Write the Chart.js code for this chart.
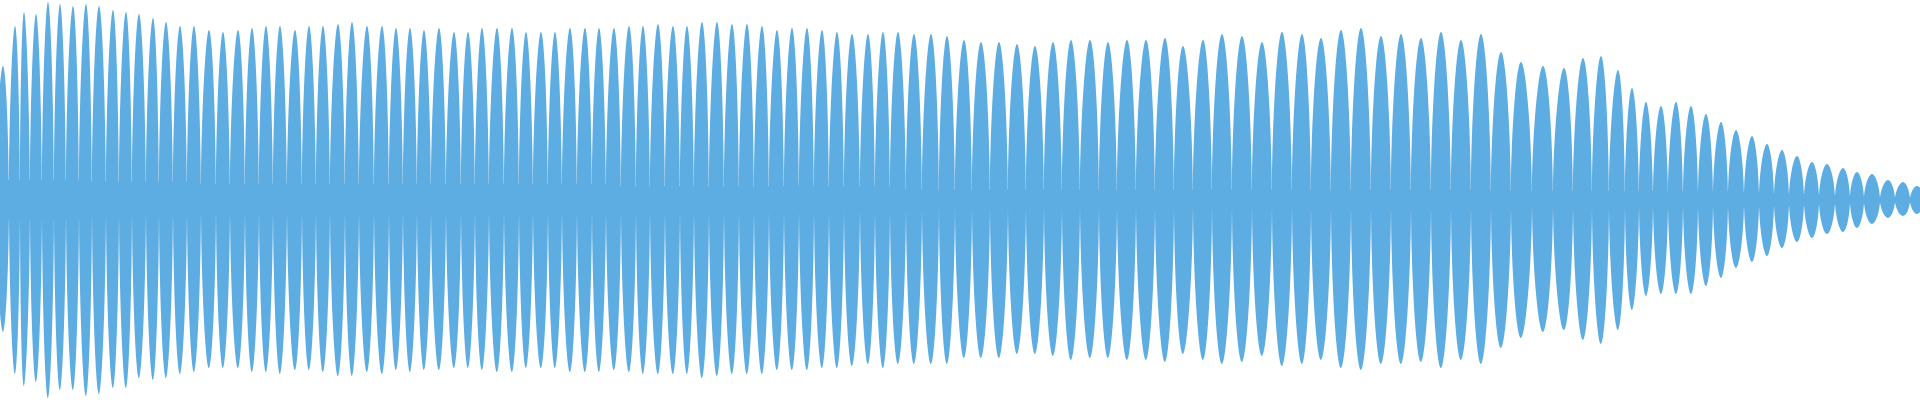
<!DOCTYPE html>
<html>
<head>
<meta charset="utf-8">
<script src="https://cdn.jsdelivr.net/npm/chart.js@4.4.1/dist/chart.umd.min.js"></script>
<style>
  html, body { margin: 0; padding: 0; background: #fff; }
  #wrap { width: 1920px; height: 400px; position: relative; }
</style>
</head>
<body>
<div id="wrap"><canvas id="wave"></canvas></div>
<script>
// lobe centres (sample position)
const peakX = [3, 15, 24, 36, 48, 60, 73, 86, 99, 113,
  126, 139, 153, 166, 180, 194, 209, 223, 238, 252,
  266, 280, 295, 309, 323, 338, 352, 367, 382, 396,
  410, 424, 439, 454, 468, 482, 497, 512, 526, 541,
  555, 570, 585, 599, 614, 629, 643, 658, 673, 687,
  702, 717, 732, 747, 762, 777, 792, 807, 822, 837,
  852, 868, 883, 898, 914, 931, 947, 964, 981, 999,
  1017, 1035, 1053, 1071, 1090, 1108, 1127, 1146, 1165, 1183,
  1203, 1222, 1242, 1262, 1282, 1302, 1321, 1341, 1361, 1381,
  1401, 1421, 1441, 1461, 1481, 1501, 1521, 1543, 1564, 1583,
  1601, 1618, 1632, 1646, 1661, 1676, 1691, 1706, 1721, 1736,
  1752, 1767, 1782, 1797, 1812, 1827, 1843, 1857, 1872, 1888,
  1903, 1917];

// max amplitude of each lobe
const peakTop = [0.67, 0.87, 0.94, 0.93, 0.99, 0.98, 0.97, 0.98, 0.97, 0.95,
  0.94, 0.93, 0.91, 0.89, 0.87, 0.87, 0.85, 0.84, 0.85, 0.86,
  0.87, 0.87, 0.85, 0.87, 0.87, 0.88, 0.89, 0.87, 0.87, 0.86,
  0.86, 0.85, 0.86, 0.84, 0.84, 0.86, 0.86, 0.86, 0.84, 0.84,
  0.84, 0.86, 0.86, 0.86, 0.86, 0.87, 0.87, 0.88, 0.87, 0.87,
  0.89, 0.89, 0.88, 0.88, 0.87, 0.85, 0.86, 0.86, 0.85, 0.84,
  0.83, 0.83, 0.84, 0.84, 0.83, 0.83, 0.82, 0.80, 0.79, 0.79,
  0.78, 0.77, 0.79, 0.80, 0.80, 0.79, 0.80, 0.80, 0.81, 0.77,
  0.80, 0.83, 0.82, 0.79, 0.84, 0.83, 0.81, 0.85, 0.86, 0.82,
  0.83, 0.81, 0.84, 0.80, 0.83, 0.74, 0.69, 0.67, 0.66, 0.71,
  0.72, 0.65, 0.56, 0.49, 0.47, 0.49, 0.47, 0.43, 0.39, 0.35,
  0.32, 0.28, 0.25, 0.22, 0.19, 0.18, 0.16, 0.14, 0.13, 0.10,
  0.09, 0.07];

// min amplitude of each lobe
const peakBottom = [-0.66, -0.87, -0.93, -0.91, -0.99, -0.95, -0.95, -0.98, -0.97, -0.94,
  -0.94, -0.89, -0.90, -0.89, -0.87, -0.86, -0.84, -0.84, -0.84, -0.86,
  -0.86, -0.87, -0.85, -0.85, -0.86, -0.88, -0.88, -0.86, -0.87, -0.85,
  -0.86, -0.85, -0.85, -0.84, -0.84, -0.85, -0.86, -0.86, -0.84, -0.84,
  -0.84, -0.86, -0.86, -0.86, -0.85, -0.86, -0.87, -0.87, -0.87, -0.87,
  -0.89, -0.88, -0.87, -0.87, -0.87, -0.85, -0.85, -0.85, -0.84, -0.84,
  -0.83, -0.82, -0.84, -0.82, -0.82, -0.82, -0.82, -0.79, -0.79, -0.79,
  -0.77, -0.77, -0.78, -0.80, -0.79, -0.79, -0.80, -0.80, -0.81, -0.77,
  -0.80, -0.82, -0.81, -0.78, -0.83, -0.82, -0.80, -0.84, -0.85, -0.82,
  -0.82, -0.81, -0.84, -0.80, -0.82, -0.74, -0.69, -0.66, -0.65, -0.70,
  -0.72, -0.65, -0.55, -0.48, -0.47, -0.47, -0.47, -0.43, -0.39, -0.34,
  -0.31, -0.28, -0.24, -0.21, -0.19, -0.17, -0.16, -0.14, -0.12, -0.09,
  -0.08, -0.07];

// quiet points between lobes
const neckX = [-4, 9, 20, 30, 42, 54, 66, 79, 92, 106,
  119, 132, 146, 159, 173, 187, 201, 216, 230, 245,
  259, 273, 287, 302, 316, 330, 345, 359, 374, 389,
  403, 417, 431, 446, 461, 475, 489, 504, 519, 533,
  548, 562, 577, 592, 606, 621, 636, 650, 665, 680,
  694, 709, 724, 739, 754, 769, 784, 799, 814, 829,
  844, 860, 875, 890, 906, 922, 939, 955, 972, 990,
  1008, 1026, 1044, 1062, 1080, 1099, 1117, 1136, 1155, 1174,
  1193, 1212, 1232, 1252, 1272, 1292, 1311, 1331, 1351, 1371,
  1391, 1411, 1431, 1451, 1471, 1491, 1511, 1532, 1553, 1573,
  1592, 1609, 1625, 1639, 1653, 1668, 1683, 1698, 1713, 1728,
  1744, 1759, 1774, 1789, 1804, 1819, 1835, 1850, 1864, 1880,
  1895, 1910, 1924];

// half thickness of the band left at each quiet point
const neckAmp = [0.10, 0.10, 0.10, 0.10, 0.10, 0.10, 0.10, 0.10, 0.09, 0.09,
  0.09, 0.09, 0.09, 0.09, 0.09, 0.09, 0.08, 0.08, 0.08, 0.08,
  0.08, 0.08, 0.08, 0.08, 0.08, 0.08, 0.08, 0.08, 0.08, 0.08,
  0.08, 0.08, 0.08, 0.08, 0.08, 0.08, 0.08, 0.08, 0.08, 0.08,
  0.08, 0.08, 0.08, 0.08, 0.08, 0.07, 0.07, 0.07, 0.07, 0.07,
  0.07, 0.07, 0.07, 0.07, 0.07, 0.07, 0.07, 0.07, 0.07, 0.07,
  0.07, 0.07, 0.07, 0.07, 0.05, 0.05, 0.05, 0.05, 0.05, 0.05,
  0.05, 0.05, 0.05, 0.05, 0.05, 0.05, 0.05, 0.05, 0.05, 0.05,
  0.05, 0.05, 0.05, 0.05, 0.05, 0.05, 0.05, 0.05, 0.05, 0.05,
  0.05, 0.05, 0.05, 0.05, 0.05, 0.045, 0.045, 0.045, 0.045, 0.045,
  0.045, 0.045, 0.045, 0.045, 0.045, 0.045, 0.045, 0.045, 0.045, 0.045,
  0.04, 0.038, 0.035, 0.032, 0.03, 0.028, 0.025, 0.023, 0.02, 0.018,
  0.016, 0.015, 0.015];

const waveColor = '#5dade2';

// each lobe is a closed loop left -> top -> right -> bottom,
// walked a bit past the start so every corner gets a smooth tangent
function lobeLoops() {
  let pts = [];
  for (let i = 0; i < peakX.length; i++) {
    const left = { x: neckX[i], y: 0 };
    const right = { x: neckX[i + 1], y: 0 };
    const top = { x: peakX[i], y: peakTop[i] };
    const bottom = { x: peakX[i], y: peakBottom[i] };
    pts.push(bottom, left, top, right, bottom, left, top);
    pts.push({ x: neckX[i + 1], y: null });
  }
  return pts;
}

// thin band along the centre line
function bandShape() {
  let pts = [];
  for (let i = 0; i < neckX.length; i++) pts.push({ x: neckX[i], y: neckAmp[i] });
  for (let i = neckX.length - 1; i >= 0; i--) pts.push({ x: neckX[i], y: -neckAmp[i] });
  return pts;
}

const ctx = document.getElementById('wave').getContext('2d');
new Chart(ctx, {
  type: 'line',
  data: {
    datasets: [{
      label: 'band',
      data: bandShape(),
      backgroundColor: waveColor,
      borderColor: 'rgba(0,0,0,0)',
      borderWidth: 0,
      pointRadius: 0,
      tension: 0,
      fill: 'shape'
    }, {
      label: 'lobes',
      data: lobeLoops(),
      backgroundColor: waveColor,
      borderColor: 'rgba(0,0,0,0)',
      borderWidth: 0,
      pointRadius: 0,
      tension: 0.46,
      spanGaps: false,
      fill: 'shape'
    }]
  },
  options: {
    responsive: true,
    maintainAspectRatio: false,
    animation: false,
    layout: { padding: 0 },
    plugins: { legend: { display: false }, tooltip: { enabled: false } },
    scales: {
      x: { type: 'linear', min: 0, max: 1920, display: false },
      y: { min: -1, max: 1, display: false }
    }
  }
});
</script>
</body>
</html>
